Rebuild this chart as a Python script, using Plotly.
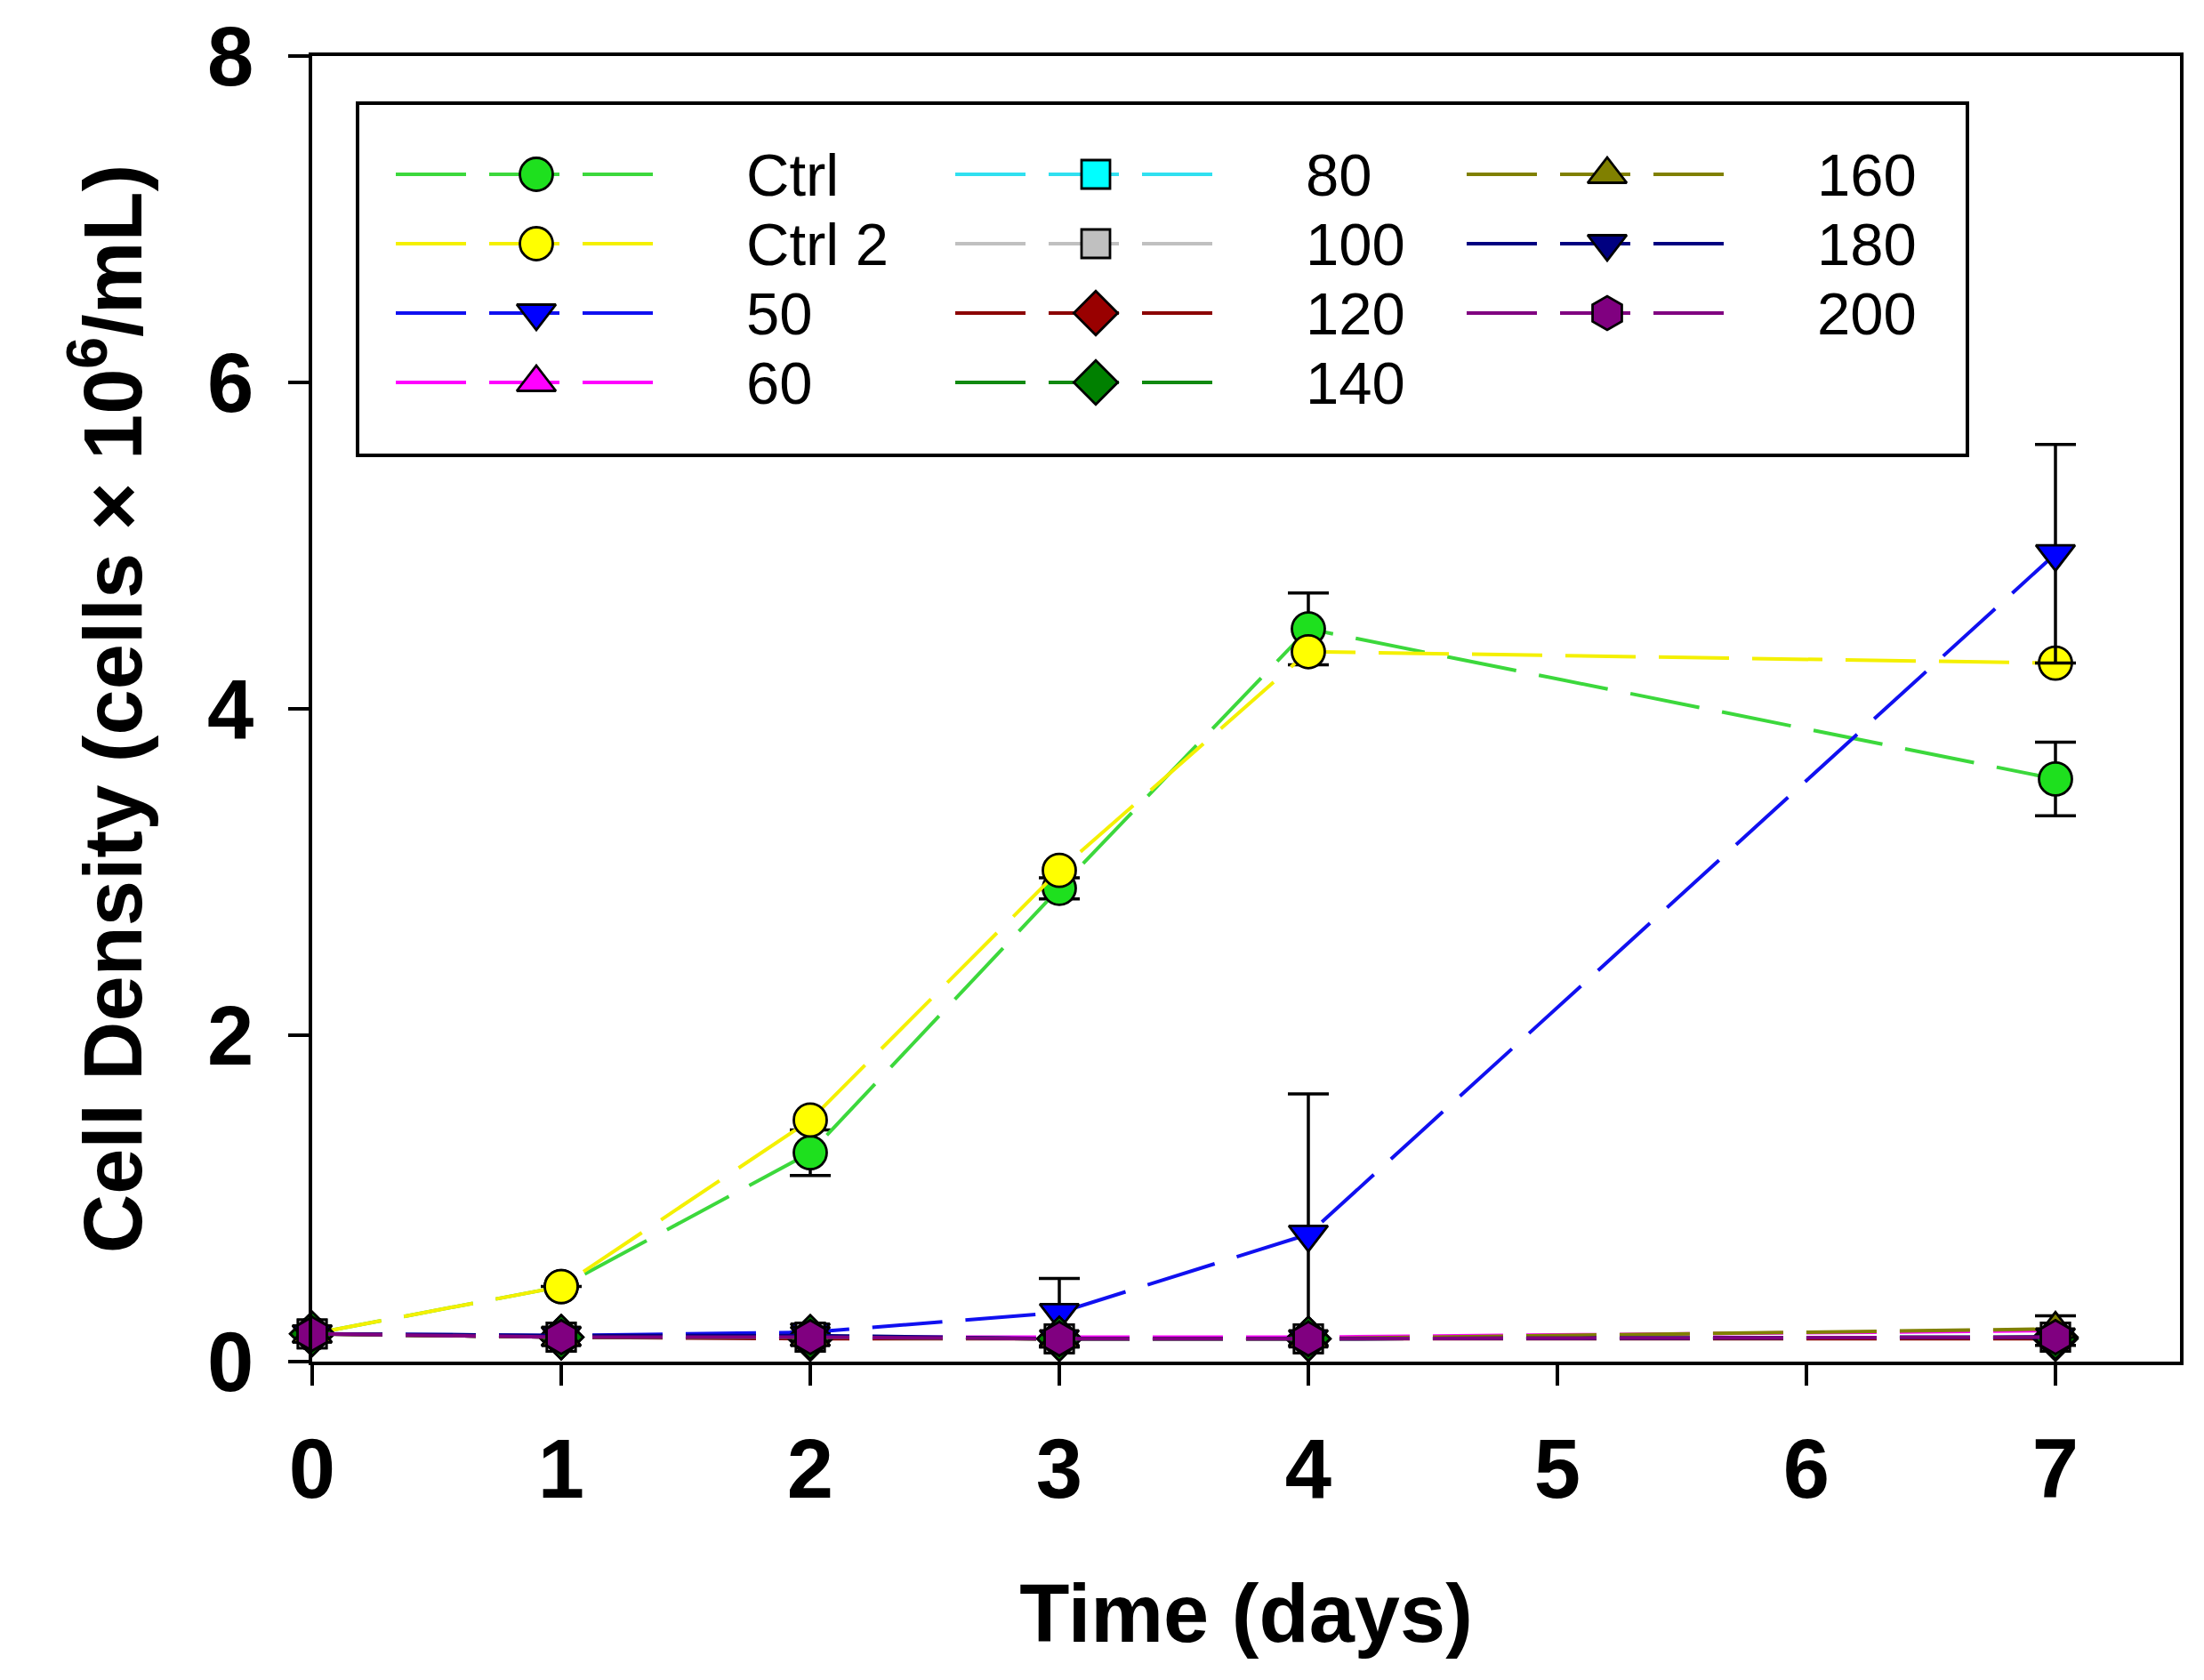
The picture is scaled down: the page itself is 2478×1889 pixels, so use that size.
import plotly.graph_objects as go

# ---- data ----
days = [0, 1, 2, 3, 4, 7]

names = ["Ctrl", "Ctrl 2", "50", "60", "80", "100", "120", "140", "160", "180", "200"]

ctrl = [0.17, 0.46, 1.28, 2.90, 4.49, 3.57]
ctrl_err = [None, None, 0.14, 0.065, 0.22, 0.225]
ctrl2 = [0.17, 0.46, 1.48, 3.01, 4.35, 4.28]
d50 = [0.17, 0.16, 0.18, 0.30, 0.78, 4.95]
d50_err = [None, None, None, 0.21, 0.86, 0.67]
d60 = [0.17, 0.15, 0.15, 0.15, 0.15, 0.19]
d60_err = [None, None, None, None, None, 0.09]
d80 = [0.17, 0.15, 0.15, 0.14, 0.14, 0.15]
d100 = [0.17, 0.15, 0.15, 0.14, 0.14, 0.15]
d120 = [0.17, 0.15, 0.14, 0.14, 0.14, 0.14]
d140 = [0.17, 0.15, 0.15, 0.14, 0.14, 0.15]
d160 = [0.17, 0.15, 0.15, 0.14, 0.14, 0.20]
d180 = [0.17, 0.16, 0.16, 0.14, 0.14, 0.15]
d200 = [0.17, 0.15, 0.15, 0.14, 0.14, 0.15]

values = [ctrl, ctrl2, d50, d60, d80, d100, d120, d140, d160, d180, d200]
errors = [ctrl_err, None, d50_err, d60_err, None, None, None, None, None, None, None]

line_colors = ["#3CD83C", "#F4F000", "#1010F0", "#FF00FF", "#30E0F0", "#C0C0C0",
               "#8B0000", "#108A10", "#808000", "#000080", "#800080"]
fill_colors = ["#1EE01E", "#FFFF00", "#0000FF", "#FF00FF", "#00FFFF", "#C0C0C0",
               "#990000", "#008000", "#808000", "#000080", "#800080"]
symbols = ["circle", "circle", "triangle-down", "triangle-up", "square", "square",
           "diamond", "diamond", "triangle-up", "triangle-down", "hexagon"]
sizes = {"circle": 37, "triangle-down": 38, "triangle-up": 38, "square": 32,
         "diamond": 38, "hexagon": 38}

FONT = "Liberation Sans, Arial, sans-serif"
DASH = "79px,26px"
LW = 4

fig = go.Figure()

for name, vals, err, lc, fc, sym in zip(names, values, errors, line_colors, fill_colors, symbols):
    tr = dict(
        x=days, y=vals, mode="lines+markers", name=name, showlegend=False,
        line=dict(color=lc, width=LW, dash=DASH),
        marker=dict(symbol=sym, size=sizes[sym], color=fc,
                    line=dict(color="black", width=2.8)),
        cliponaxis=False,
    )
    if err is not None:
        tr["error_y"] = dict(type="data", array=err, visible=True, color="black",
                             thickness=3.5, width=23)
    fig.add_trace(go.Scatter(**tr))

# ---- hand-drawn legend on a pixel-scaled overlay axis ----
LEG_BOX = (402, 116, 2212, 512)
LEG_COL_X = [445, 1074, 1649]
LEG_ROW_Y0 = 196
LEG_ROW_STEP = 78
LEG_LINE_LEN = 292
LEG_MARK_OFF = 158
LEG_TEXT_OFF = 392

for i, (name, lc, fc, sym) in enumerate(zip(names, line_colors, fill_colors, symbols)):
    col, row = divmod(i, 4)
    x0 = LEG_COL_X[col]
    yy = LEG_ROW_Y0 + row * LEG_ROW_STEP
    fig.add_trace(go.Scatter(
        x=[x0, x0 + LEG_LINE_LEN], y=[yy, yy], mode="lines",
        line=dict(color=lc, width=LW, dash=DASH),
        xaxis="x2", yaxis="y2", showlegend=False, hoverinfo="skip"))
    fig.add_trace(go.Scatter(
        x=[x0 + LEG_MARK_OFF], y=[yy], mode="markers",
        marker=dict(symbol=sym, size=sizes[sym], color=fc,
                    line=dict(color="black", width=2.8)),
        xaxis="x2", yaxis="y2", showlegend=False, hoverinfo="skip"))
    fig.add_annotation(x=x0 + LEG_TEXT_OFF, y=yy, xref="x2", yref="y2",
                       text=name, showarrow=False, xanchor="left", yanchor="middle",
                       font=dict(family=FONT, size=67, color="black"))

fig.add_shape(type="rect", xref="x2", yref="y2",
              x0=LEG_BOX[0], y0=LEG_BOX[1], x1=LEG_BOX[2], y1=LEG_BOX[3],
              line=dict(color="black", width=4), fillcolor="rgba(0,0,0,0)", layer="below")

W, H = 2478, 1889
ML, MR, MT, MB = 351, 27, 63, 358

axis_common = dict(
    showline=True, linecolor="black", linewidth=4, mirror=True,
    ticks="outside", ticklen=23, tickwidth=3.5, tickcolor="black",
    showgrid=False, zeroline=False,
    tickfont=dict(family=FONT, size=94, color="black", weight="bold"),
)

fig.update_layout(
    width=W, height=H,
    margin=dict(l=ML, r=MR, t=MT, b=MB),
    paper_bgcolor="white", plot_bgcolor="white",
    showlegend=False,
    xaxis=dict(range=[0, 7.5], tickvals=[0, 1, 2, 3, 4, 5, 6, 7],
               ticklabelstandoff=13,
               title=dict(text="Time (days)", standoff=80,
                          font=dict(family=FONT, size=92, color="black", weight="bold")),
               **axis_common),
    yaxis=dict(range=[0, 8], tickvals=[0, 2, 4, 6, 8],
               ticklabelstandoff=20,
               title=dict(text="Cell Density (cells \u00d7 10<sup>6</sup>/mL)", standoff=44,
                          font=dict(family=FONT, size=92, color="black", weight="bold")),
               **axis_common),
    xaxis2=dict(overlaying="x", anchor="y2", range=[ML, W - MR], visible=False),
    yaxis2=dict(overlaying="y", anchor="x2", range=[H - MB, MT], visible=False),
)

fig.write_html("out.html", config={"displayModeBar": False},
               post_script="document.body.style.margin='0';")
